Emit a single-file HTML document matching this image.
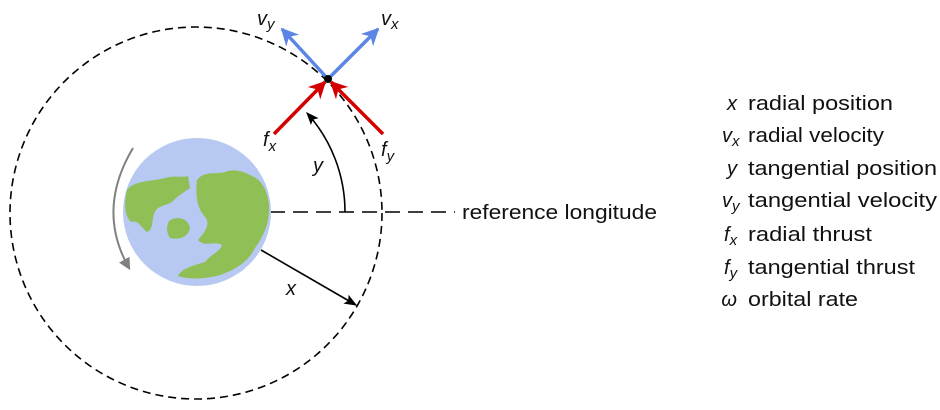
<!DOCTYPE html>
<html><head><meta charset="utf-8"><style>
html,body{margin:0;padding:0;background:#fff;}
svg{display:block;}
text{font-family:"Liberation Sans","DejaVu Sans",sans-serif;fill:#111;}
.i{font-style:italic;}
</style></head><body>
<svg width="940" height="410" viewBox="0 0 940 410" xmlns="http://www.w3.org/2000/svg">
<defs>
<marker id="ab" viewBox="0 0 10 10" refX="9" refY="5" markerWidth="5" markerHeight="5" orient="auto"><path d="M0,0 L10,5 L0,10 L3,5 z" fill="#5b86e5"/></marker>
<marker id="ar" viewBox="0 0 10 10" refX="9" refY="5" markerWidth="5" markerHeight="5" orient="auto"><path d="M0,0 L10,5 L0,10 L3,5 z" fill="#d40000"/></marker>
<marker id="ak" viewBox="0 0 10 10" refX="9" refY="5" markerWidth="8" markerHeight="8" orient="auto"><path d="M0,1 L10,5 L0,9 L2,5 z" fill="#000"/></marker>
<marker id="ag" viewBox="0 0 10 10" refX="8" refY="5" markerWidth="6" markerHeight="6" orient="auto"><path d="M0,0 L10,5 L0,10 z" fill="#808080"/></marker>
</defs>
<circle cx="196" cy="213" r="186" fill="none" stroke="#000" stroke-width="1.6" stroke-dasharray="8,5"/>
<line x1="270" y1="212" x2="455" y2="212" stroke="#000" stroke-width="1.6" stroke-dasharray="15,8"/>
<text x="462" y="219" font-size="20" textLength="195" lengthAdjust="spacingAndGlyphs">reference longitude</text>
<circle cx="197" cy="212" r="74" fill="#b7c9f2"/>
<g fill="#8fbf55">
<path d="M127,190 C135,180 150,182 165,178 C175,175 182,178 188,176 L190,188 C184,192 178,196 174,200 C170,205 160,205 156,210 C150,220 155,228 147,232 C140,226 138,220 132,222 C126,220 123,205 127,190 z"/>
<path d="M170,220 C178,216 188,218 190,228 C188,238 178,240 170,238 C166,232 166,225 170,220 z"/>
<path d="M197,180 C205,170 215,175 225,172 C235,168 245,172 252,176 C262,180 268,192 269,205 C270,225 262,238 255,248 C248,262 235,270 220,275 C205,279 190,280 178,276 C182,268 195,265 205,262 C210,255 220,252 222,245 C215,240 205,248 198,240 C205,232 210,225 206,218 C198,210 195,198 197,180 z"/>
</g>
<path d="M133,148 Q96,210 129,268" fill="none" stroke="#808080" stroke-width="2" marker-end="url(#ag)"/>
<path d="M345,212 A148,148 0 0 0 307,113" fill="none" stroke="#000" stroke-width="1.6" marker-end="url(#ak)"/>
<text x="313" y="172" font-size="20" class="i">y</text>
<line x1="261" y1="250" x2="356" y2="305" stroke="#000" stroke-width="1.6" marker-end="url(#ak)"/>
<text x="286" y="295" font-size="20" class="i">x</text>
<line x1="328" y1="79" x2="282" y2="29" stroke="#5b86e5" stroke-width="3.5" marker-end="url(#ab)"/>
<line x1="328" y1="79" x2="378" y2="29" stroke="#5b86e5" stroke-width="3.5" marker-end="url(#ab)"/>
<line x1="274" y1="134" x2="325" y2="82" stroke="#d40000" stroke-width="3.5" marker-end="url(#ar)"/>
<line x1="383" y1="134" x2="331" y2="82" stroke="#d40000" stroke-width="3.5" marker-end="url(#ar)"/>
<circle cx="328" cy="79" r="4" fill="#000"/>
<text x="257" y="25" font-size="20" class="i">v<tspan font-size="15" dy="4">y</tspan></text>
<text x="381" y="25" font-size="20" class="i">v<tspan font-size="15" dy="4">x</tspan></text>
<text x="263" y="146" font-size="20" class="i">f<tspan font-size="15" dy="5">x</tspan></text>
<text x="381" y="156" font-size="20" class="i">f<tspan font-size="15" dy="5">y</tspan></text>
<g font-size="20">
<text x="737" y="110" text-anchor="end" class="i">x</text>
<text x="748" y="110" textLength="145" lengthAdjust="spacingAndGlyphs">radial position</text>
<text x="722" y="142" class="i">v<tspan font-size="15" dy="4">x</tspan></text>
<text x="748" y="142" textLength="136" lengthAdjust="spacingAndGlyphs">radial velocity</text>
<text x="737" y="175" text-anchor="end" class="i">y</text>
<text x="748" y="175" textLength="189" lengthAdjust="spacingAndGlyphs">tangential position</text>
<text x="722" y="207" class="i">v<tspan font-size="15" dy="4">y</tspan></text>
<text x="748" y="207" textLength="189" lengthAdjust="spacingAndGlyphs">tangential velocity</text>
<text x="724" y="241" class="i">f<tspan font-size="15" dy="4">x</tspan></text>
<text x="748" y="241" textLength="124" lengthAdjust="spacingAndGlyphs">radial thrust</text>
<text x="724" y="274" class="i">f<tspan font-size="15" dy="4">y</tspan></text>
<text x="748" y="274" textLength="167" lengthAdjust="spacingAndGlyphs">tangential thrust</text>
<text x="737" y="306" text-anchor="end" class="i">ω</text>
<text x="748" y="306" textLength="110" lengthAdjust="spacingAndGlyphs">orbital rate</text>
</g>
</svg>
</body></html>
